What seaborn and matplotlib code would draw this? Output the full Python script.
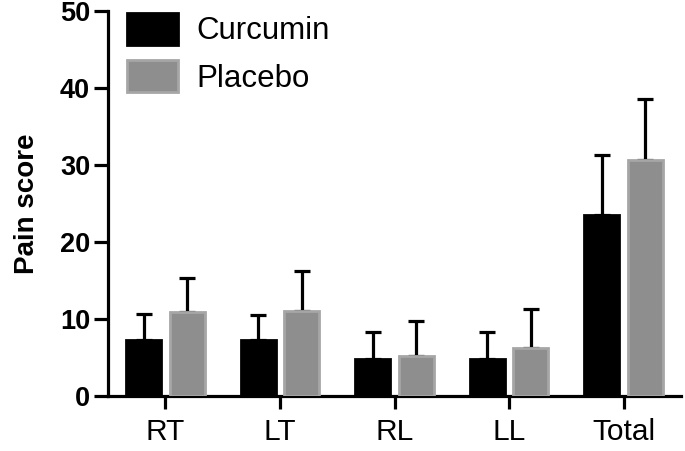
import matplotlib
matplotlib.use("Agg")
import matplotlib.pyplot as plt
import seaborn as sns
import pandas as pd

categories = ['RT', 'LT', 'RL', 'LL', 'Total']
curcumin_mean = [7.3, 7.3, 4.9, 4.9, 23.5]
curcumin_sd = [3.4, 3.2, 3.4, 3.5, 7.8]
placebo_mean = [10.9, 11.1, 5.3, 6.3, 30.7]
placebo_sd = [4.4, 5.2, 4.5, 5.1, 7.9]
groups = ['Curcumin', 'Placebo']
y_ticks = [0, 10, 20, 30, 40, 50]

sns.set_style("ticks")
plt.rcParams['font.family'] = ['Liberation Sans', 'DejaVu Sans']
plt.rcParams.update({'text.color': 'black', 'axes.labelcolor': 'black',
                     'xtick.color': 'black', 'ytick.color': 'black',
                     'axes.edgecolor': 'black'})

data = pd.DataFrame({
    'site': categories * 2,
    'group': [groups[0]] * len(categories) + [groups[1]] * len(categories),
    'score': curcumin_mean + placebo_mean,
    'sd': curcumin_sd + placebo_sd,
})

fig = plt.figure(figsize=(6.85, 4.51), dpi=100)
ax = fig.add_axes([0.158, 0.121, 0.836, 0.855])

palette = {'Curcumin': '#000000', 'Placebo': '#8e8e8e'}
sns.barplot(data=data, x='site', y='score', hue='group', order=categories,
            hue_order=groups, palette=palette, width=0.76, gap=0.2,
            errorbar=None, saturation=1, ax=ax, zorder=3)

# bar edges and upper error bars (GraphPad style)
for container, grp in zip(ax.containers, groups):
    sub = data[data['group'] == grp].set_index('site').loc[categories]
    for patch, sd in zip(container.patches, sub['sd']):
        if grp == 'Placebo':
            patch.set_edgecolor('#a6a6a6')
        else:
            patch.set_edgecolor('#000000')
        patch.set_linewidth(2.0)
        x = patch.get_x() + patch.get_width() / 2
        h = patch.get_height()
        ax.errorbar(x, h, yerr=[[0], [sd]], fmt='none', ecolor='black',
                    elinewidth=2.3, capsize=6, capthick=2.3, zorder=2)

ax.set_xlim(-0.5, 4.5)
ax.set_ylim(0, 50)
ax.set_yticks(y_ticks)
ax.set_xlabel('')
ax.set_ylabel('Pain score', fontsize=20, fontweight='bold', labelpad=14)
for lab in ax.get_yticklabels():
    lab.set_fontweight('bold')
ax.tick_params(axis='y', labelsize=19.5, width=2.3, length=10, pad=3)
ax.tick_params(axis='x', labelsize=21.5, width=2.3, length=9, pad=6.5)
sns.despine(ax=ax)
for side in ['left', 'bottom']:
    ax.spines[side].set_linewidth(2.3)

handles, labels = ax.get_legend_handles_labels()
for hnd, grp in zip(handles, groups):
    hnd.set_edgecolor('#a6a6a6' if grp == 'Placebo' else '#000000')
    hnd.set_linewidth(2.0)
ax.legend(handles, labels, loc='upper left', bbox_to_anchor=(0.033, 0.995),
          frameon=False, fontsize=22.5, handlelength=1.62, handleheight=1.2,
          handletextpad=0.6, labelspacing=0.45, borderpad=0, borderaxespad=0)

fig.savefig('out.png', dpi=100)
